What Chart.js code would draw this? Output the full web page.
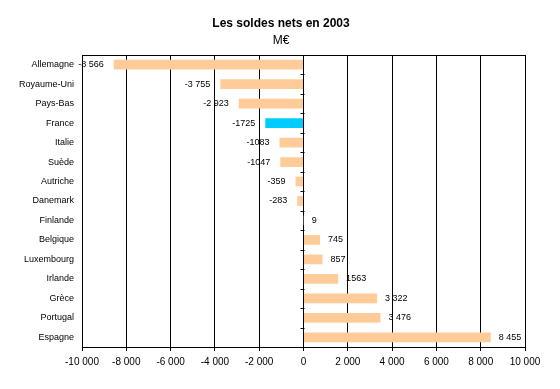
<!DOCTYPE html>
<html>
<head>
<meta charset="utf-8">
<script src="https://cdn.jsdelivr.net/npm/chart.js@4/dist/chart.umd.min.js"></script>
<style>
  html, body { margin: 0; padding: 0; background: #fff; }
  #wrap { width: 560px; height: 389px; }
</style>
</head>
<body>
<div id="wrap"><canvas id="soldes" width="560" height="389"></canvas></div>
<script>
// data
var pays = ["Allemagne", "Royaume-Uni", "Pays-Bas", "France", "Italie", "Suède", "Autriche",
  "Danemark", "Finlande", "Belgique", "Luxembourg", "Irlande", "Grèce", "Portugal", "Espagne"];
var soldes = [-8566, -3755, -2923, -1725, -1083, -1047, -359, -283, 9, 745, 857, 1563, 3322, 3476, 8455];
// labels as printed on the chart
var etiquettes = ["-8 566", "-3 755", "-2 923", "-1725", "-1083", "-1047", "-359",
  "-283", "9", "745", "857", "1563", "3 322", "3 476", "8 455"];
var titre = "Les soldes nets en 2003";
var unite = "M€";
var xMin = -10000, xMax = 10000, xStep = 2000;

function fmt(v) {
  var s = Math.abs(v).toString().replace(/\B(?=(\d{3})+(?!\d))/g, " ");
  return (v < 0 ? "-" : "") + s;
}

var couleurs = pays.map(function (p) {
  return p === "France" ? "#00CCFF" : "#FFCC99";
});

var police = "'Liberation Sans', Arial, sans-serif";

// title + subtitle
var titlePlugin = {
  id: "titres",
  afterDraw: function (chart) {
    var ctx = chart.ctx;
    ctx.save();
    ctx.fillStyle = "#000";
    ctx.textAlign = "center";
    ctx.textBaseline = "middle";
    ctx.font = "bold 12px " + police;
    ctx.fillText(titre, 281, 24);
    ctx.font = "12px " + police;
    ctx.fillText(unite, 281, 41);
    ctx.restore();
  },
};

// value labels sit under the grid lines, like the original
var labelsPlugin = {
  id: "valeurs",
  beforeDraw: function (chart) {
    var ctx = chart.ctx;
    ctx.save();
    ctx.fillStyle = "#000";
    ctx.font = "9px " + police;
    ctx.textBaseline = "middle";
    var meta = chart.getDatasetMeta(0);
    meta.data.forEach(function (bar, i) {
      if (soldes[i] < 0) {
        ctx.textAlign = "right";
        ctx.fillText(etiquettes[i], bar.x - 10, bar.y);
      } else {
        ctx.textAlign = "left";
        ctx.fillText(etiquettes[i], bar.x + 8, bar.y);
      }
    });
    ctx.restore();
  },
  afterDatasetsDraw: function (chart) {
    var ctx = chart.ctx;
    var area = chart.chartArea;
    var xs = chart.scales.x;
    var ys = chart.scales.y;
    ctx.save();
    ctx.strokeStyle = "#000";
    ctx.lineWidth = 1;

    // top of the frame
    ctx.beginPath();
    ctx.moveTo(area.left, Math.round(area.top) + 0.5);
    ctx.lineTo(area.right, Math.round(area.top) + 0.5);
    ctx.stroke();

    // small ticks on the zero axis, between categories
    var x0 = Math.round(xs.getPixelForValue(0)) + 0.5;
    var step = ys.getPixelForValue(1) - ys.getPixelForValue(0);
    ctx.beginPath();
    for (var i = 0; i <= pays.length; i++) {
      var y = Math.round(ys.getPixelForValue(i) - step / 2) + 0.5;
      ctx.moveTo(x0 - 4, y);
      ctx.lineTo(x0, y);
    }
    ctx.stroke();
    ctx.restore();
  },
};

var chart = new Chart(document.getElementById("soldes").getContext("2d"), {
  type: "bar",
  data: {
    labels: pays,
    datasets: [
      {
        data: soldes,
        backgroundColor: couleurs,
        borderWidth: 0,
        barPercentage: 0.5,
        categoryPercentage: 1,
      },
    ],
  },
  options: {
    indexAxis: "y",
    responsive: false,
    animation: false,
    layout: {
      padding: { top: 55, right: 35, bottom: 0, left: 0 },
    },
    plugins: {
      legend: { display: false },
      tooltip: { enabled: false },
      title: { display: false },
    },
    scales: {
      x: {
        min: xMin,
        max: xMax,
        afterFit: function (scale) {
          scale.height = 42;
        },
        ticks: {
          stepSize: xStep,
          color: "#000",
          padding: 5,
          maxRotation: 0,
          font: { family: police, size: 10 },
          callback: function (v) {
            return fmt(v);
          },
        },
        grid: {
          color: "#000",
          lineWidth: 1,
          drawTicks: true,
          tickLength: 4,
          tickColor: "#000",
        },
        border: { display: true, color: "#000" },
      },
      y: {
        afterFit: function (scale) {
          scale.width = 82;
        },
        ticks: {
          color: "#000",
          padding: 8,
          font: { family: police, size: 9 },
        },
        grid: { display: false, drawTicks: false },
        border: { display: true, color: "#000" },
      },
    },
  },
  plugins: [titlePlugin, labelsPlugin],
});
</script>
</body>
</html>
